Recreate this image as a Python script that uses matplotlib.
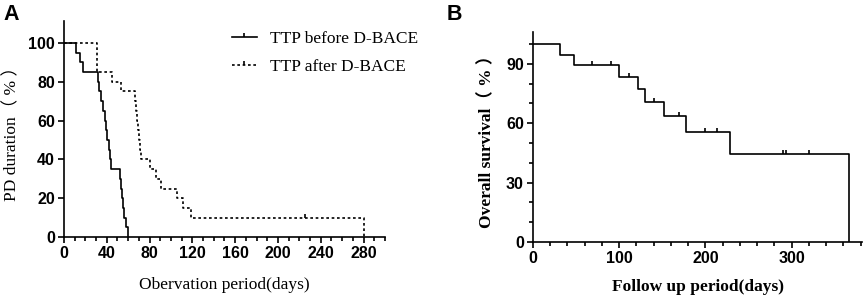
import matplotlib
matplotlib.use("Agg")
import matplotlib.pyplot as plt
from matplotlib.path import Path
from matplotlib.lines import Line2D

# Panel A: time to progression, before / after D-BACE (step times, % after each drop)
t_before = [0, 11, 15, 18, 32, 33, 35, 36, 38, 39, 40, 42, 43, 44, 52, 53, 54, 55, 56, 58, 60]
s_before = [100, 95, 90, 85, 80, 75, 70, 65, 60, 55, 50, 45, 40, 35, 30, 25, 20, 15, 10, 5, 0]
t_after = [0, 31, 45, 53, 66, 67, 68, 69, 70, 71, 72, 80, 86, 91, 106, 111, 119, 280]
s_after = [100, 85, 80, 75, 70, 65, 60, 55, 50, 45, 40, 35, 30, 25, 20, 15, 10, 0]
cens_after_t = [225]
cens_after_s = [10]

# Panel B: overall survival
t_os = [0, 32, 48, 100, 122, 130, 152, 177, 228, 366]
s_os = [100, 94.7, 89.5, 83.6, 77.1, 70.7, 63.6, 55.7, 44.5, 0]
cens_os_t = [69, 91, 112, 140, 169, 199, 213, 290, 294, 320]
cens_os_s = [89.5, 89.5, 83.6, 70.7, 63.6, 55.7, 55.7, 44.5, 44.5, 44.5]

SANS = "Liberation Sans"
SERIF = ["Liberation Serif", "Noto Sans CJK SC"]
LW = 1.2
MS = 6

# tick that points up only (censor mark)
up_tick = Path([(0, 0), (0, 1)], [Path.MOVETO, Path.LINETO])

fig = plt.figure(figsize=(8.65, 3.04), dpi=100)
axA = fig.add_axes([0.074, 0.220, 0.371, 0.7095])
axB = fig.add_axes([0.616, 0.204, 0.381, 0.690])

def style(ax):
    for s in ["top", "right"]:
        ax.spines[s].set_visible(False)
    for s in ["left", "bottom"]:
        ax.spines[s].set_linewidth(LW)
    ax.tick_params(which="major", direction="out", length=4.5, width=LW, pad=2)
    ax.tick_params(which="minor", direction="out", length=3, width=LW)
    for lab in ax.get_xticklabels() + ax.get_yticklabels():
        lab.set_fontfamily(SANS)
        lab.set_fontweight("bold")
        lab.set_fontsize(11.5)

# --- A ---
axA.step(t_before, s_before, where="post", color="black", lw=LW)
axA.step(t_after, s_after, where="post", color="black", lw=LW, ls=(0, (1.6, 1.6)))
axA.plot(cens_after_t, cens_after_s, ls="none", marker=up_tick, ms=MS,
         mew=LW, color="black")
axA.set_xlim(0, 300)
axA.set_ylim(0, 111)
axA.set_xticks(range(0, 281, 40))
axA.set_xticks(range(0, 301, 10), minor=True)
axA.set_yticks(range(0, 101, 20))
style(axA)
axA.set_xlabel("Obervation period(days)", family=SERIF, fontsize=12.5, va="center")
axA.xaxis.set_label_coords(0.5, -0.222)
axA.set_ylabel("PD duration（ % ）", family=SERIF, fontsize=12.5, va="center")
axA.yaxis.set_label_coords(-0.162, 0.5)

h1 = Line2D([], [], color="black", lw=LW, marker=up_tick, ms=MS, mew=LW)
h2 = Line2D([], [], color="black", lw=LW, ls=(0, (1.6, 1.6)), marker=up_tick,
            ms=MS, mew=LW)
axA.legend([h1, h2], ["TTP before D-BACE", "TTP after D-BACE"],
           loc="upper left", bbox_to_anchor=(0.523, 0.955), frameon=False,
           borderpad=0, borderaxespad=0, prop={"family": SERIF, "size": 12.5},
           handlelength=1.45, handletextpad=0.75, numpoints=1, labelspacing=0.68)

# --- B ---
axB.step(t_os, s_os, where="post", color="black", lw=LW)
axB.plot(cens_os_t, cens_os_s, ls="none", marker=up_tick, ms=MS,
         mew=LW, color="black")
axB.set_xlim(0, 382)
axB.set_ylim(0, 106)
axB.set_xticks(range(0, 301, 100))
axB.set_xticks(range(0, 381, 20), minor=True)
axB.set_yticks(range(0, 91, 30))
axB.set_yticks(range(0, 101, 10), minor=True)
style(axB)
axB.set_xlabel("Follow up period(days)", family=SERIF, fontsize=12.5,
               fontweight="bold", va="center")
axB.xaxis.set_label_coords(0.5, -0.215)
axB.set_ylabel("Overall survival（ % ）", family=SERIF, fontsize=12.5,
               fontweight="bold", va="center")
axB.yaxis.set_label_coords(-0.14, 0.5)

fig.text(0.004, 0.935, "A", family=SANS, fontweight="bold", fontsize=15.5)
fig.text(0.516, 0.935, "B", family=SANS, fontweight="bold", fontsize=15.5)

fig.savefig("out.png", dpi=100)
